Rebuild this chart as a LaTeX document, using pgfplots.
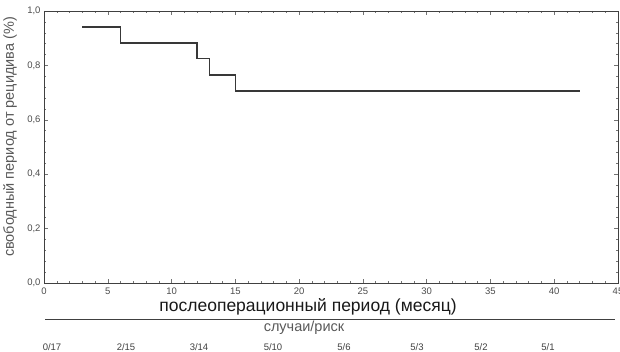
\documentclass[border=0pt]{standalone}
\usepackage{fontspec}
\setmainfont{Liberation Sans}
\usepackage{pgfplots}
\pgfplotsset{compat=1.18}
\begin{document}
\begin{tikzpicture}[x=1pt,y=1pt]
\useasboundingbox (0,0) rectangle (620,351);
\begin{axis}[
  at={(44pt,68pt)}, anchor=south west,
  scale only axis, width=574pt, height=272pt,
  xmin=0, xmax=45, ymin=0, ymax=1,
  xtick={0,5,10,15,20,25,30,35,40,45},
  ytick={0,0.2,0.4,0.6,0.8,1.0},
  minor x tick num=4, minor y tick num=4,
  tick align=inside, tick pos=both,
  major tick length=4pt, minor tick length=2pt,
  axis line style={draw=black!75, line width=0.8pt},
  every tick/.style={black!55, line width=0.5pt},
  tick label style={font=\fontsize{9.5}{11}\selectfont, text=black!70},
  /pgf/number format/assume math mode=true,
  yticklabel style={/pgf/number format/.cd, use comma, fixed, fixed zerofill, precision=1},
  xticklabel style={yshift=-1pt},
  clip=false,
]
\addplot[const plot, color=black!78, line width=1.2pt] coordinates {
  (3,0.941) (6,0.882) (12,0.824) (13,0.765) (15,0.706) (42,0.706)
};
\end{axis}
\node[rotate=90, font=\fontsize{14.5}{17}\selectfont, text=black!65] at (10,214) {свободный период от рецидива (\%)};
\node[font=\fontsize{17.5}{20}\selectfont, text=black!90] at (308,44) {послеоперационный период (месяц)};
\draw[black!75, line width=0.8pt] (45,32) -- (615,32);
\node[font=\fontsize{14.5}{17}\selectfont, text=black!65] at (304,23) {случаи/риск};
\begin{scope}[every node/.style={font=\fontsize{9.5}{11}\selectfont, text=black!75}]
\node at (52,4) {0/17};
\node at (126,4) {2/15};
\node at (199,4) {3/14};
\node at (273,4) {5/10};
\node at (344,4) {5/6};
\node at (417,4) {5/3};
\node at (481,4) {5/2};
\node at (548,4) {5/1};
\end{scope}
\end{tikzpicture}
\end{document}
